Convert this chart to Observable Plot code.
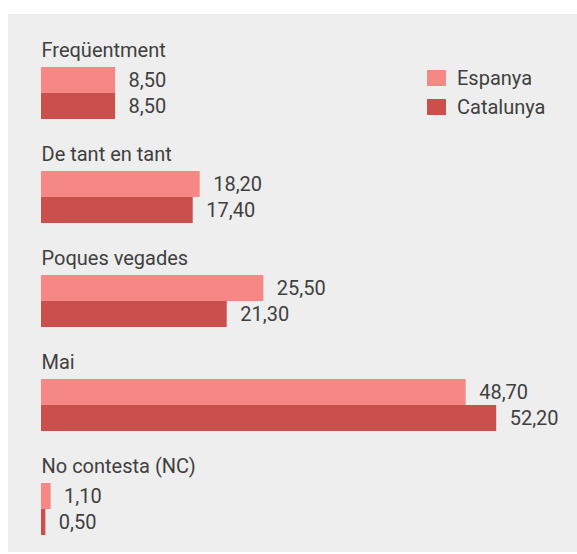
<!DOCTYPE html>
<html>
<head>
<meta charset="utf-8">
<script src="https://cdn.jsdelivr.net/npm/d3@7"></script>
<script src="https://cdn.jsdelivr.net/npm/@observablehq/plot@0.6"></script>
<style>
  html, body { margin: 0; padding: 0; background: #ffffff; }
  #wrap { position: relative; width: 577px; height: 554px; }
  #panel { position: absolute; left: 8px; top: 14px; width: 569px; height: 538px; background: #eeeeee; }
  #legend { position: absolute; left: 419px; top: 49.5px; }
  #legend .lg-swatch { height: 29px; padding-bottom: 0 !important; display: flex; align-items: center; }
  #legend .lg-swatch svg { margin-right: 11px !important; }
  #legend, #legend * { font-family: Roboto, sans-serif !important; font-size: 20px !important; color: #404040 !important; }
</style>
</head>
<body>
<div id="wrap"><div id="panel"><div id="chart"></div><div id="legend"></div></div></div>
<script>
const categories = ["Freqüentment", "De tant en tant", "Poques vegades", "Mai", "No contesta (NC)"];
const series = ["Espanya", "Catalunya"];
const espanya = [8.5, 18.2, 25.5, 48.7, 1.1];
const catalunya = [8.5, 17.4, 21.3, 52.2, 0.5];
const colors = ["#f58885", "#cb504c"];

const data = categories.flatMap((c, i) => [
  {category: c, series: "Espanya", value: espanya[i]},
  {category: c, series: "Catalunya", value: catalunya[i]}
]);
const fmt = v => v.toFixed(2).replace(".", ",");

const plot = Plot.plot({
  width: 569,
  height: 538,
  marginTop: 0,
  marginBottom: 15.5,
  marginLeft: 33,
  marginRight: 12.8,
  style: {background: "transparent", fontFamily: "Roboto, sans-serif", fontSize: "20px", color: "#404040", overflow: "visible"},
  x: {domain: [0, 60], axis: null},
  fy: {domain: categories, padding: 0, axis: null},
  y: {domain: series, paddingInner: 0, paddingOuter: 1, align: 1, axis: null},
  color: {domain: series, range: colors},
  marks: [
    Plot.barX(data, {fy: "category", y: "series", x: "value", fill: "series"}),
    Plot.text(data, {fy: "category", y: "series", x: "value", text: d => fmt(d.value), textAnchor: "start", dx: 13, fill: "#404040"}),
    Plot.text(data, {filter: d => d.series === "Espanya", fy: "category", text: "category", frameAnchor: "top-left", textAnchor: "start", lineAnchor: "bottom", dy: 41.7, fill: "#404040"})
  ]
});
document.getElementById("chart").appendChild(plot);

const legend = plot.legend("color", {legend: "swatches", columns: 1, swatchWidth: 19, swatchHeight: 16, className: "lg"});
document.getElementById("legend").appendChild(legend);
</script>
</body>
</html>
